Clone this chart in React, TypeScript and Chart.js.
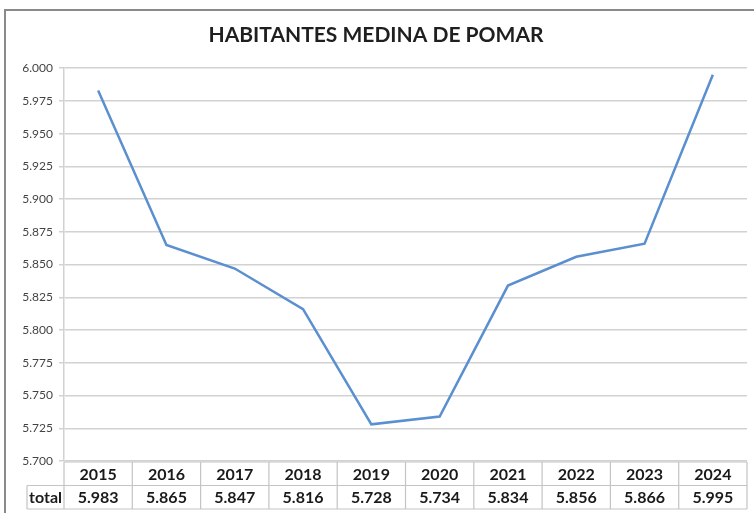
import React, { useEffect, useRef } from "react";
import { Chart, registerables } from "chart.js";

Chart.register(...registerables);

const TITLE = "HABITANTES MEDINA DE POMAR";
const YEARS = ["2015", "2016", "2017", "2018", "2019", "2020", "2021", "2022", "2023", "2024"];
const TOTALS = [5983, 5865, 5847, 5816, 5728, 5734, 5834, 5856, 5866, 5995];
const ROW_LABEL = "total";
const Y_MIN = 5700;
const Y_MAX = 6000;
const Y_STEP = 25;

const FONT = "Lato, 'Open Sans', 'DejaVu Sans', sans-serif";

const fmt = (v: number) => {
  const s = Math.round(v).toString();
  return s.length > 3 ? s.slice(0, s.length - 3) + "." + s.slice(-3) : s;
};

const framePlugin = {
  id: "frame",
  beforeDraw(chart: any) {
    const { ctx, width, height } = chart;
    ctx.save();
    ctx.fillStyle = "#ffffff";
    ctx.fillRect(0, 0, width, height);
    ctx.strokeStyle = "#8a8a8a";
    ctx.lineWidth = 2;
    ctx.beginPath();
    ctx.moveTo(5, height);
    ctx.lineTo(5, 10);
    ctx.lineTo(width, 10);
    ctx.stroke();
    ctx.restore();
  },
};

const tablePlugin = {
  id: "dataTable",
  afterDraw(chart: any) {
    const { ctx, chartArea, scales } = chart;
    const xs = scales.x;
    const n = YEARS.length;
    const band = (chartArea.right - chartArea.left) / n;
    const top = chartArea.bottom + 1;
    const rowH = 23.5;
    const labelLeft = 27;
    ctx.save();
    ctx.strokeStyle = "#c4c4c4";
    ctx.lineWidth = 1.2;
    ctx.beginPath();
    ctx.moveTo(chartArea.left, top);
    ctx.lineTo(chartArea.right, top);
    ctx.moveTo(labelLeft, top + rowH);
    ctx.lineTo(chartArea.right, top + rowH);
    ctx.moveTo(labelLeft, top + 2 * rowH);
    ctx.lineTo(chartArea.right, top + 2 * rowH);
    for (let i = 0; i <= n; i++) {
      const bx = i < n ? xs.getPixelForValue(i) - band / 2 : xs.getPixelForValue(n - 1) + band / 2;
      ctx.moveTo(bx, top);
      ctx.lineTo(bx, top + 2 * rowH);
    }
    ctx.moveTo(labelLeft, top + rowH);
    ctx.lineTo(labelLeft, top + 2 * rowH);
    ctx.stroke();

    ctx.fillStyle = "#1a1a1a";
    ctx.font = `bold 16px ${FONT}`;
    ctx.textAlign = "center";
    ctx.textBaseline = "middle";
    for (let i = 0; i < n; i++) {
      const cx = xs.getPixelForValue(i);
      ctx.fillText(YEARS[i], cx, top + rowH / 2 + 1);
      ctx.fillText(fmt(TOTALS[i]), cx, top + rowH * 1.5 + 1);
    }
    ctx.fillText(ROW_LABEL, (labelLeft + chartArea.left) / 2, top + rowH * 1.5 + 1);
    ctx.restore();
  },
};

export default function App() {
  const ref = useRef<HTMLCanvasElement | null>(null);
  useEffect(() => {
    if (!ref.current) return;
    const chart = new Chart(ref.current, {
      type: "line",
      data: {
        labels: YEARS,
        datasets: [
          {
            label: ROW_LABEL,
            data: TOTALS,
            borderColor: "#5a8fd0",
            backgroundColor: "#5a8fd0",
            borderWidth: 2.5,
            pointRadius: 0,
            tension: 0,
          },
        ],
      },
      options: {
        animation: false,
        responsive: false,
        layout: { padding: { left: 5, top: 10, right: 7, bottom: 0 } },
        plugins: {
          legend: { display: false },
          tooltip: { enabled: false },
          title: {
            display: true,
            text: TITLE,
            color: "#1f1f1f",
            font: { family: FONT, size: 21, weight: "bold" },
            padding: { top: 13, bottom: 20 },
          },
        },
        scales: {
          x: {
            offset: true,
            grid: { display: false, drawTicks: false },
            border: { display: false },
            ticks: { display: false },
            afterFit: (s: any) => {
              s.height = 52;
            },
          },
          y: {
            min: Y_MIN,
            max: Y_MAX,
            ticks: {
              stepSize: Y_STEP,
              color: "#444444",
              font: { family: FONT, size: 12 },
              padding: 6,
              callback: (v: any) => fmt(Number(v)),
            },
            grid: { color: "#d2d2d2", lineWidth: 1.5, tickLength: 5 },
            border: { display: true, color: "#d2d2d2", width: 1.5 },
            afterFit: (s: any) => {
              s.width = 59;
            },
          },
        },
      },
      plugins: [framePlugin, tablePlugin],
    });
    return () => chart.destroy();
  }, []);
  return (
    <div style={{ position: "absolute", left: 0, top: 0, width: 754, height: 513 }}>
      <canvas ref={ref} width={754} height={513} />
    </div>
  );
}
